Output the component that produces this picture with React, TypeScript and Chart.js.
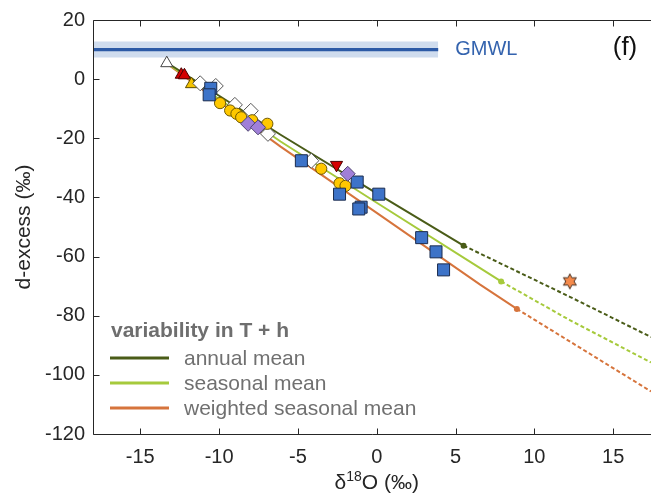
import React, { useEffect, useRef } from 'react';
import { Chart, registerables } from 'chart.js';
Chart.register(...registerables);

// ---- axes ----
const X_MIN = -18;
const X_MAX = 17.4;
const Y_MIN = -120;
const Y_MAX = 20;
const xTicks = [-15, -10, -5, 0, 5, 10, 15];
const yTicks = [20, 0, -20, -40, -60, -80, -100, -120];

// ---- GMWL ----
const gmwlValue = 10;
const gmwlBand = [7.3, 12.7];
const gmwlXRange = [-18, 3.9];
const gmwlLabel = 'GMWL';
const panelLabel = '(f)';

// ---- model curves ----
const annualSolid = [[-13.2, 5.2], [-6.1, -18.8], [0, -38.6], [5.51, -56.3]];
const annualDashed = [[5.51, -56.3], [12.25, -73.6], [17.4, -87.2]];
const seasonalSolid = [[-13.2, 5.0], [-6.1, -21.1], [0, -41.8], [6.56, -63.9], [7.89, -68.4]];
const seasonalDashed = [[7.89, -68.4], [12.25, -81.5], [17.4, -95.8]];
const weightedSolid = [[-13.2, 4.8], [-6.1, -22.8], [0, -45.2], [6.56, -69.5], [8.89, -77.7]];
const weightedDashed = [[8.89, -77.7], [13.1, -91.5], [17.4, -105.6]];

// ---- observations ----
const whiteTriangles = [[-13.32, 5.4]];
const redTriangles = [[-12.4, 1.5], [-12.2, 1.3]];
const yellowTriangles = [[-11.75, -1.7]];
const whiteDiamonds = [[-11.2, -1.4], [-10.21, -2.3], [-9.0, -8.7], [-7.99, -10.7], [-6.9, -18.5], [-4.15, -27.6]];
const blueSquares = [[-10.53, -3.1], [-10.63, -5.3], [-4.78, -27.6], [-1.24, -34.8], [-2.36, -38.9], [0.13, -38.9], [-0.99, -43.3], [-1.14, -43.9], [2.85, -53.6], [3.76, -58.4], [4.24, -64.5]];
const yellowCircles = [[-9.94, -8.1], [-9.3, -10.6], [-8.9, -11.7], [-8.6, -12.9], [-7.9, -13.9], [-6.94, -15.1], [-3.52, -30.3], [-2.36, -35.2], [-1.98, -36.1]];
const purpleDiamonds = [[-8.16, -15.1], [-7.53, -16.3], [-1.84, -32.0]];
const redDownTriangles = [[-2.55, -29.0]];
const stars = [[12.25, -68.4]];

// ---- legend ----
const legendTitle = 'variability in T + h';
const legendLabels = ['annual mean', 'seasonal mean', 'weighted seasonal mean'];

const C_ANNUAL = '#4a5c18';
const C_SEASONAL = '#a6ca3c';
const C_WEIGHTED = '#d6743c';
const legendColors = [C_ANNUAL, C_SEASONAL, C_WEIGHTED];

const FONT = "'Liberation Sans', Arial, Helvetica, sans-serif";
const AXIS_COLOR = '#262626';

const pts = (a: number[][]) => a.map(([x, y]) => ({ x, y }));

function makeStar(): HTMLCanvasElement {
  const c = document.createElement('canvas');
  c.width = 18; c.height = 18;
  const g = c.getContext('2d')!;
  const cx = 9, cy = 9, r = 7.5;
  g.beginPath();
  for (let i = 0; i < 12; i++) {
    const ang = -Math.PI / 2 + (i * Math.PI) / 6;
    const rr = i % 2 === 0 ? r : r * 0.55;
    const px = cx + rr * Math.cos(ang);
    const py = cy + rr * Math.sin(ang);
    if (i === 0) g.moveTo(px, py); else g.lineTo(px, py);
  }
  g.closePath();
  g.fillStyle = '#f58a4b';
  g.fill();
  g.lineWidth = 1;
  g.strokeStyle = '#4a3020';
  g.stroke();
  return c;
}

function curve(data: number[][], color: string, dashed: boolean, order: number) {
  return {
    data: pts(data),
    showLine: true,
    borderColor: color,
    backgroundColor: color,
    borderWidth: 2,
    borderDash: dashed ? [4, 2.5] : [],
    pointRadius: (ctx: any) => (!dashed && ctx.dataIndex === data.length - 1 ? 3 : 0),
    pointBorderWidth: 0,
    tension: 0,
    fill: false,
    order,
  };
}

function markers(data: number[][], style: any, fill: string, edge: string, radius: number, order: number, rotation = 0) {
  return {
    data: pts(data),
    showLine: false,
    pointStyle: style,
    pointRadius: radius,
    pointRotation: rotation,
    pointBackgroundColor: fill,
    pointBorderColor: edge,
    pointBorderWidth: 1,
    backgroundColor: fill,
    borderColor: edge,
    order,
  };
}

const overlayPlugin = {
  id: 'overlay',
  afterDraw(chart: any) {
    const { ctx, chartArea: a, scales } = chart;
    const x = scales.x, y = scales.y;
    ctx.save();
    // frame and inward ticks
    ctx.strokeStyle = AXIS_COLOR;
    ctx.lineWidth = 1;
    const L = Math.round(a.left) + 0.5;
    const T = Math.round(a.top) + 0.5;
    const B = Math.round(a.bottom) + 0.5;
    ctx.beginPath();
    ctx.moveTo(L, T); ctx.lineTo(L, B); ctx.lineTo(a.right, B);
    ctx.moveTo(L, T); ctx.lineTo(a.right, T);
    for (const v of xTicks) {
      const px = Math.round(x.getPixelForValue(v)) + 0.5;
      ctx.moveTo(px, B); ctx.lineTo(px, B - 6);
      ctx.moveTo(px, T); ctx.lineTo(px, T + 6);
    }
    for (const v of yTicks) {
      const py = Math.round(y.getPixelForValue(v)) + 0.5;
      ctx.moveTo(L, py); ctx.lineTo(L + 6, py);
    }
    ctx.stroke();

    // x-axis title with superscript
    ctx.fillStyle = AXIS_COLOR;
    ctx.textBaseline = 'alphabetic';
    ctx.textAlign = 'left';
    const big = `21px ${FONT}`, small = `14px ${FONT}`;
    ctx.font = big; const w1 = ctx.measureText('δ').width;
    ctx.font = small; const w2 = ctx.measureText('18').width;
    ctx.font = big; const w3 = ctx.measureText('O (‰)').width;
    const total = w1 + w2 + w3;
    let cx = x.getPixelForValue(0) - total / 2;
    const base = 489;
    ctx.font = big; ctx.fillText('δ', cx, base); cx += w1;
    ctx.font = small; ctx.fillText('18', cx, base - 8); cx += w2;
    ctx.font = big; ctx.fillText('O (‰)', cx, base);

    // GMWL label
    ctx.fillStyle = '#3463ae';
    ctx.font = `20px ${FONT}`;
    ctx.textBaseline = 'middle';
    ctx.fillText(gmwlLabel, x.getPixelForValue(gmwlXRange[1]) + 17, y.getPixelForValue(gmwlValue));

    // panel label
    ctx.fillStyle = '#111111';
    ctx.font = `26px ${FONT}`;
    ctx.textAlign = 'center';
    ctx.fillText(panelLabel, 625, 48);

    // legend
    const lx = a.left + 17;
    ctx.textAlign = 'left';
    ctx.fillStyle = '#6e6e6e';
    ctx.font = `bold 21px ${FONT}`;
    ctx.fillText(legendTitle, lx + 1, 331);
    const rows = [358, 383, 408];
    ctx.font = `21px ${FONT}`;
    legendLabels.forEach((lab, i) => {
      ctx.strokeStyle = legendColors[i];
      ctx.lineWidth = 3;
      ctx.beginPath();
      ctx.moveTo(lx, rows[i]);
      ctx.lineTo(lx + 59, rows[i]);
      ctx.stroke();
      ctx.fillStyle = '#707070';
      ctx.fillText(lab, lx + 74, rows[i] + 1);
    });
    ctx.restore();
  },
};

export default function App() {
  const ref = useRef<HTMLCanvasElement>(null);
  useEffect(() => {
    document.body.style.margin = '0';
    const canvas = ref.current!;
    const star = makeStar();
    const datasets: any[] = [
      // observations (drawn on top: low order)
      markers(stars, star, '#f58a4b', '#4a3020', 8, 1),
      markers(redDownTriangles, 'triangle', '#d40000', '#4a0000', 7, 2, 180),
      markers(purpleDiamonds, 'rectRot', '#a07fd8', '#4e4470', 7.5, 3),
      markers(blueSquares, 'rect', '#3d73c8', '#1b2c4e', 8.5, 4),
      markers(yellowCircles, 'circle', '#ffc800', '#6e5800', 5.6, 5),
      markers(whiteDiamonds, 'rectRot', '#ffffff', '#555555', 7.5, 6),
      markers(yellowTriangles, 'triangle', '#f5c400', '#5e4c00', 7, 7),
      markers(redTriangles, 'triangle', '#d40000', '#4a0000', 7, 8),
      markers(whiteTriangles, 'triangle', '#ffffff', '#444444', 7, 9),
      // model curves
      curve(annualSolid, C_ANNUAL, false, 10),
      curve(seasonalSolid, C_SEASONAL, false, 11),
      curve(weightedSolid, C_WEIGHTED, false, 12),
      curve(annualDashed, C_ANNUAL, true, 13),
      curve(seasonalDashed, C_SEASONAL, true, 14),
      curve(weightedDashed, C_WEIGHTED, true, 15),
      // GMWL line
      {
        data: pts([[gmwlXRange[0], gmwlValue], [gmwlXRange[1], gmwlValue]]),
        showLine: true, borderColor: '#2c5aa6', borderWidth: 3.3, pointRadius: 0, fill: false, order: 20,
      },
      // GMWL band
      {
        data: pts([[gmwlXRange[0], gmwlBand[1]], [gmwlXRange[1], gmwlBand[1]]]),
        showLine: true, borderWidth: 0, borderColor: 'rgba(0,0,0,0)', pointRadius: 0,
        fill: { value: gmwlBand[0] }, backgroundColor: '#cfdcee', order: 21,
      },
    ];
    const chart = new Chart(canvas, {
      type: 'scatter',
      data: { datasets },
      plugins: [overlayPlugin],
      options: {
        animation: false,
        responsive: false,
        maintainAspectRatio: false,
        layout: { autoPadding: false, padding: { top: 20, right: 0, left: 0, bottom: 0 } },
        plugins: { legend: { display: false }, tooltip: { enabled: false } },
        scales: {
          x: {
            type: 'linear',
            min: X_MIN,
            max: X_MAX,
            grid: { display: false, drawTicks: false },
            border: { display: false },
            ticks: { color: AXIS_COLOR, font: { family: FONT, size: 20 }, padding: 11, maxRotation: 0, autoSkip: false },
            afterBuildTicks: (s: any) => { s.ticks = xTicks.map((v) => ({ value: v })); },
            afterFit: (s: any) => { s.height = 60; s.paddingLeft = 0; s.paddingRight = 0; },
          },
          y: {
            type: 'linear',
            min: Y_MIN,
            max: Y_MAX,
            grid: { display: false, drawTicks: false },
            border: { display: false },
            ticks: { color: AXIS_COLOR, font: { family: FONT, size: 20 }, padding: 8, autoSkip: false },
            title: { display: true, text: 'd-excess (‰)', color: AXIS_COLOR, font: { family: FONT, size: 21 }, padding: { top: 12, bottom: 0 } },
            afterBuildTicks: (s: any) => { s.ticks = yTicks.map((v) => ({ value: v })); },
            afterFit: (s: any) => { s.width = 93; s.paddingTop = 0; s.paddingBottom = 0; },
          },
        },
      } as any,
    });
    return () => chart.destroy();
  }, []);
  return (
    <div style={{ width: 651, height: 494 }}>
      <canvas ref={ref} width={651} height={494} style={{ display: 'block', width: 651, height: 494 }} />
    </div>
  );
}
